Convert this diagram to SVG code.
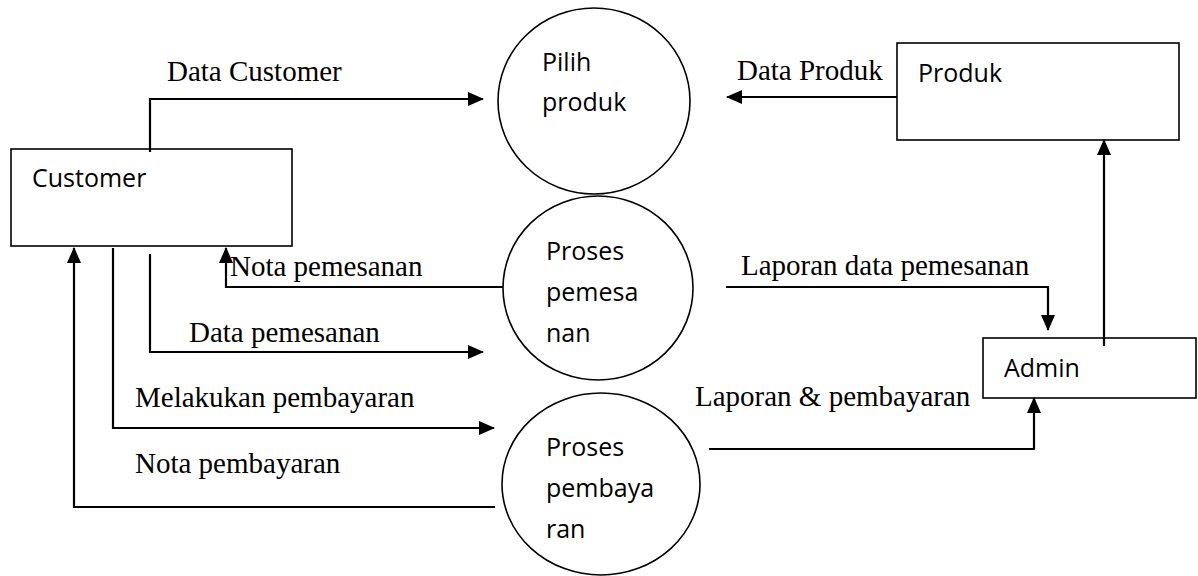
<svg xmlns="http://www.w3.org/2000/svg" width="1198" height="576" viewBox="0 0 1198 576">
  <style>
    .box { fill: #ffffff; stroke: #000000; stroke-width: 1.6; }
    .proc { fill: #ffffff; stroke: #000000; stroke-width: 1.6; }
    .name { font-family: "Open Sans", "Liberation Sans", sans-serif; font-size: 25px; fill: #000000; }
    .flow { fill: none; stroke: #000000; stroke-width: 2.2; }
    .label { font-family: "Liberation Serif", "Times New Roman", serif; font-size: 29px; fill: #000000; }
  </style>
  <defs>
    <marker id="arrow" markerWidth="16" markerHeight="14" refX="15" refY="7" orient="auto" markerUnits="userSpaceOnUse">
      <path d="M0,0 L16,7 L0,14 Z" fill="#000000"/>
    </marker>
  </defs>
  <rect width="1198" height="576" fill="#ffffff"/>

  <!-- external entities -->
  <g id="customer">
    <rect class="box" x="11" y="149" width="281" height="97"/>
    <text class="name" x="32" y="187">Customer</text>
  </g>
  <g id="produk">
    <rect class="box" x="897" y="43" width="282" height="97"/>
    <text class="name" x="918" y="82">Produk</text>
  </g>
  <g id="admin">
    <rect class="box" x="983" y="338" width="213" height="60"/>
    <text class="name" x="1004" y="377">Admin</text>
  </g>

  <!-- processes -->
  <g id="pilih-produk">
    <ellipse class="proc" cx="594" cy="101" rx="96" ry="93"/>
    <text class="name" x="542" y="71">Pilih</text>
    <text class="name" x="542" y="111">produk</text>
  </g>
  <g id="proses-pemesanan">
    <ellipse class="proc" cx="598" cy="288" rx="95" ry="92"/>
    <text class="name" x="546" y="260">Proses</text>
    <text class="name" x="546" y="301">pemesa</text>
    <text class="name" x="546" y="342">nan</text>
  </g>
  <g id="proses-pembayaran">
    <ellipse class="proc" cx="601" cy="484" rx="99" ry="91"/>
    <text class="name" x="546" y="456">Proses</text>
    <text class="name" x="546" y="497">pembaya</text>
    <text class="name" x="546" y="538">ran</text>
  </g>

  <!-- data flows -->
  <g id="connectors">
    <polyline class="flow" points="150,152 150,99 483,99" marker-end="url(#arrow)"/>
    <polyline class="flow" points="897,97 727,97" marker-end="url(#arrow)"/>
    <polyline class="flow" points="1104,346 1104,140" marker-end="url(#arrow)"/>
    <polyline class="flow" points="503,287 226,287 226,248" marker-end="url(#arrow)"/>
    <polyline class="flow" points="150,254 150,352 483,352" marker-end="url(#arrow)"/>
    <polyline class="flow" points="113,248 113,428 494,428" marker-end="url(#arrow)"/>
    <polyline class="flow" points="495,507 74,507 74,248" marker-end="url(#arrow)"/>
    <polyline class="flow" points="726,287 1048,287 1048,330" marker-end="url(#arrow)"/>
    <polyline class="flow" points="709,449 1034,449 1034,398" marker-end="url(#arrow)"/>
  </g>

  <!-- flow labels -->
  <g id="labels">
    <text class="label" x="167" y="81">Data Customer</text>
    <text class="label" x="737" y="80">Data Produk</text>
    <text class="label" x="230" y="276">Nota pemesanan</text>
    <text class="label" x="189" y="342">Data pemesanan</text>
    <text class="label" x="135" y="407">Melakukan pembayaran</text>
    <text class="label" x="135" y="473">Nota pembayaran</text>
    <text class="label" x="741" y="275">Laporan data pemesanan</text>
    <text class="label" x="695" y="406">Laporan &amp; pembayaran</text>
  </g>
</svg>
